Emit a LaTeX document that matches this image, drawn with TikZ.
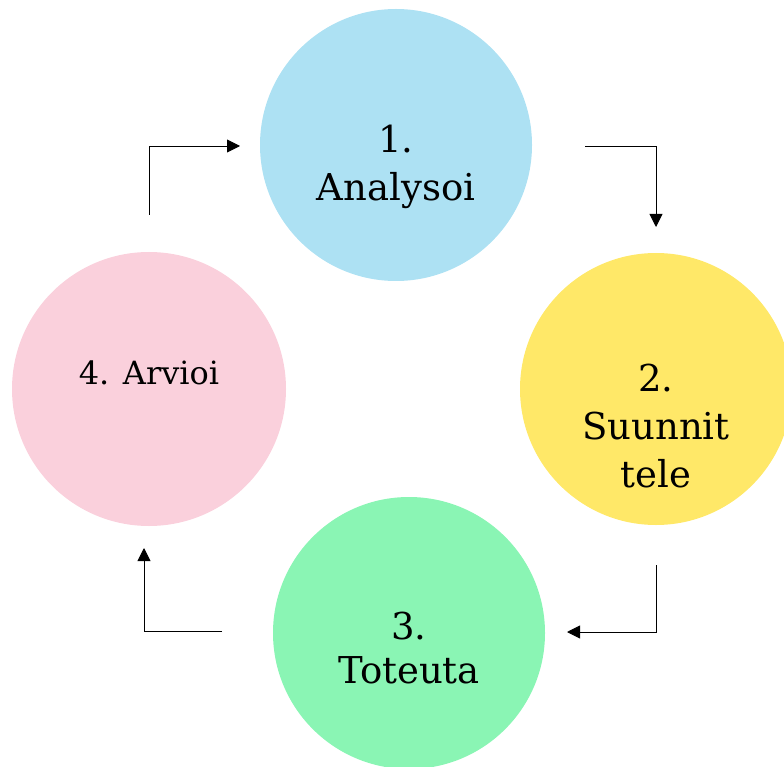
\documentclass[tikz,border=0pt]{standalone}
\usepackage{fontspec}
\setmainfont{DejaVu Serif}
\usepackage{xcolor}
\usetikzlibrary{arrows.meta,positioning,calc}

\definecolor{analblue}{RGB}{173,225,243}
\definecolor{suunyellow}{RGB}{255,232,104}
\definecolor{totegreen}{RGB}{138,245,180}
\definecolor{arvpink}{RGB}{250,208,220}

\begin{document}
\begin{tikzpicture}[x=1pt, y=-1pt,
    phase/.style={circle, minimum size=272pt, inner sep=0pt},
    phasetext/.style={align=center, font=\fontsize{37}{48}\selectfont},
    flow/.style={-{Triangle[width=13pt,length=13pt]}, line width=0.9pt}]
    \useasboundingbox (0,0) rectangle (784,767);
    \node[phase, fill=analblue] (analysoi) at (396,145) {};
    \node[phase, fill=suunyellow] (suunnittele) at (656,389) {};
    \node[phase, fill=totegreen] (toteuta) at (409,633) {};
    \node[phase, fill=arvpink, minimum size=274pt] (arvioi) at (149,389) {};

    \node[phasetext] (t1) at ([yshift=-22pt]analysoi.center) {1.\\Analysoi};
    \node[phasetext] (t2) at ([yshift=-37pt]suunnittele.center) {2.\\Suunnit\\tele};
    \node[phasetext, font=\fontsize{37}{44}\selectfont] (t3) at ([yshift=-15pt]toteuta.center) {3.\\Toteuta};
    \node[phasetext, font=\fontsize{32}{40}\selectfont] (t4) at ([yshift=16pt]arvioi.center) {4. Arvioi};

    \coordinate (a1) at (585,146);
    \coordinate (b1) at (656,227);
    \coordinate (a2) at (656,565);
    \coordinate (b2) at (567,632);
    \coordinate (a3) at (222,631);
    \coordinate (b3) at (144,548);
    \coordinate (a4) at (149,215);
    \coordinate (b4) at (240,146);

    \draw[flow] (a1) -| (b1);
    \draw[flow] (a2) |- (b2);
    \draw[flow] (a3) -| (b3);
    \draw[flow] (a4) |- (b4);
\end{tikzpicture}
\end{document}
